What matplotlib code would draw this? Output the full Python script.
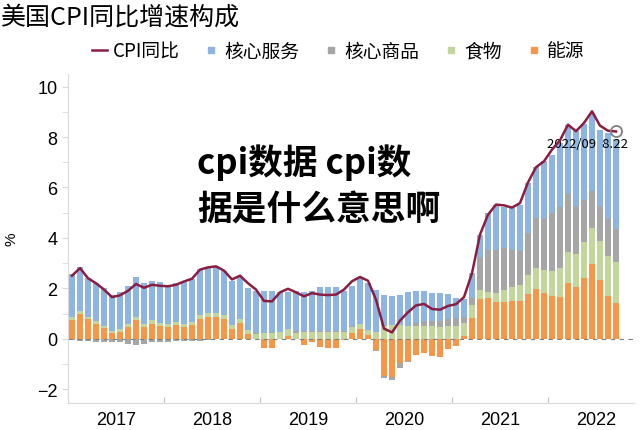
import matplotlib
matplotlib.use('Agg')
import matplotlib.pyplot as plt
from matplotlib.lines import Line2D
import numpy as np

plt.rcParams['font.family'] = ['Liberation Sans', 'Noto Sans CJK SC', 'DejaVu Sans']

years = ['2017', '2018', '2019', '2020', '2021', '2022']

# monthly contributions, Jan 2017 .. Sep 2022 (pp)
energy = [0.75, 1.0, 0.78, 0.6, 0.42, 0.22, 0.28, 0.45, 0.75, 0.45, 0.6, 0.5,
          0.45, 0.55, 0.45, 0.55, 0.8, 0.88, 0.88, 0.78, 0.4, 0.62, 0.2, 0.0,
          -0.36, -0.38, -0.03, 0.12, -0.03, -0.26, -0.12, -0.33, -0.36, -0.35, -0.05, 0.22,
          0.38, 0.16, -0.46, -1.47, -1.5, -0.95, -0.88, -0.64, -0.57, -0.7, -0.72, -0.42,
          -0.28, 0.12, 0.82, 1.57, 1.61, 1.44, 1.44, 1.51, 1.51, 1.79, 1.97, 1.81,
          1.71, 1.65, 2.21, 2.05, 2.41, 2.96, 2.34, 1.71, 1.42]
food = [0.1, 0.1, 0.1, 0.1, 0.08, 0.1, 0.12, 0.12, 0.13, 0.12, 0.13, 0.13,
        0.12, 0.12, 0.12, 0.13, 0.13, 0.15, 0.15, 0.15, 0.16, 0.15, 0.16, 0.2,
        0.22, 0.22, 0.25, 0.25, 0.24, 0.26, 0.25, 0.25, 0.26, 0.27, 0.27, 0.25,
        0.2, 0.2, 0.25, 0.5, 0.55, 0.55, 0.5, 0.5, 0.5, 0.5, 0.48, 0.5,
        0.49, 0.5, 0.53, 0.37, 0.26, 0.37, 0.5, 0.53, 0.63, 0.75, 0.83, 0.9,
        0.97, 1.15, 1.22, 1.32, 1.42, 1.43, 1.52, 1.59, 1.61]
goods = [-0.05, -0.08, -0.1, -0.12, -0.15, -0.12, -0.15, -0.2, -0.25, -0.22, -0.15, -0.12,
         -0.12, -0.1, -0.1, -0.1, -0.08, -0.05, -0.03, -0.02, -0.02, -0.02, -0.01, 0.02,
         0.02, 0.03, 0.02, 0.03, 0.05, 0.05, 0.06, 0.05, 0.04, 0.03, 0.02, 0.02,
         0.02, 0.0, -0.02, -0.08, -0.13, -0.2, -0.05, 0.12, 0.2, 0.2, 0.22, 0.3,
         0.33, 0.26, 0.26, 1.26, 1.65, 1.72, 1.65, 1.46, 1.32, 1.65, 1.98, 2.05,
         2.31, 2.41, 2.31, 1.9, 1.69, 1.46, 1.39, 1.43, 1.32]
services = [1.70, 1.75, 1.52, 1.5, 1.5, 1.43, 1.45, 1.53, 1.57, 1.63, 1.57, 1.62,
            1.53, 1.53, 1.68, 1.67, 1.82, 1.82, 1.87, 1.77, 1.74, 1.68, 1.64, 1.68,
            1.66, 1.65, 1.58, 1.45, 1.61, 1.54, 1.59, 1.75, 1.75, 1.75, 1.61, 1.61,
            1.85, 1.84, 1.7, 1.25, 1.15, 1.17, 1.35, 1.26, 1.18, 1.1, 1.1, 0.99,
            0.8, 0.7, 1.0, 0.93, 1.46, 1.79, 1.65, 1.69, 1.85, 2.0, 2.05, 2.3,
            2.31, 2.55, 2.75, 2.95, 3.0, 3.1, 3.04, 3.44, 3.57]
cpi = [2.5, 2.8, 2.4, 2.2, 1.95, 1.65, 1.72, 1.9, 2.17, 2.02, 2.14, 2.1,
       2.08, 2.14, 2.27, 2.38, 2.74, 2.83, 2.87, 2.7, 2.35, 2.5, 2.2, 1.95,
       1.5, 1.48, 1.84, 1.98, 1.84, 1.68, 1.81, 1.75, 1.73, 1.75, 1.95, 2.28,
       2.45, 2.3, 1.55, 0.4, 0.25, 0.72, 1.05, 1.32, 1.38, 1.18, 1.15, 1.3,
       1.37, 1.65, 2.6, 4.13, 4.92, 5.32, 5.29, 5.2, 5.38, 6.2, 6.8, 7.04,
       7.5, 7.87, 8.49, 8.23, 8.56, 9.02, 8.45, 8.25, 8.22]

colors = {'能源': '#F79646', '食物': '#C3D69B', '核心商品': '#A6A6A6', '核心服务': '#8EB4E3'}
line_color = '#8B1D41'

x = np.arange(len(cpi))
fig = plt.figure(figsize=(6.4, 4.31), dpi=100)
ax = fig.add_axes([68 / 640, 1 - 404 / 431, (634 - 68) / 640, (404 - 75) / 431])

pos_bottom = np.zeros(len(x))
neg_bottom = np.zeros(len(x))
for name, vals in [('能源', energy), ('食物', food), ('核心商品', goods), ('核心服务', services)]:
    v = np.array(vals)
    b = np.where(v >= 0, pos_bottom, neg_bottom)
    ax.bar(x, v, 0.72, bottom=b, color=colors[name], linewidth=0)
    pos_bottom += np.clip(v, 0, None)
    neg_bottom += np.clip(v, None, 0)

ax.axhline(0, color='#808080', lw=0.8, ls=(0, (4, 4)), zorder=1)
ax.plot(x, cpi, color=line_color, lw=1.8, zorder=4)
ax.plot(x[-1], cpi[-1], 'o', ms=8, mfc='none', mec='#808080', mew=1.3, zorder=5)
ax.text(x[-1] + 1.5, cpi[-1] - 0.22, '2022/09  8.22', ha='right', va='top',
        fontsize=9.5, family=['Noto Sans CJK SC'])

ax.set_xlim(-0.5, 70.25)
ax.set_ylim(-2.55, 10.5)
ax.set_yticks(np.arange(-2, 11, 2))
ax.set_yticks(np.arange(-2, 11, 1), minor=True)
ax.tick_params(axis='y', which='both', labelsize=13, color='#D9D9D9', length=4)
ax.set_xticks(np.arange(-0.5, 69, 12))
ax.set_xticklabels([])
ax.set_xticks(np.arange(5.5, 69, 12), minor=True)
ax.set_xticklabels(years, minor=True, fontsize=13)
ax.tick_params(axis='x', which='major', color='#BFBFBF', length=4, direction='in')
ax.tick_params(axis='x', which='minor', length=0, pad=6)

for s in ['top', 'right']:
    ax.spines[s].set_visible(False)
for s in ['left', 'bottom']:
    ax.spines[s].set_color('#D9D9D9')

fig.text(12 / 640, 1 - 239 / 431, '%', rotation=90, ha='center', va='center', fontsize=11)

fig.text(0.002, 1 - 18 / 431, '美国CPI同比增速构成', ha='left', va='center', fontsize=18,
         family=['Noto Sans CJK SC'])

handles = [Line2D([], [], color=line_color, lw=1.8)]
labels = ['CPI同比']
for name in ['核心服务', '核心商品', '食物', '能源']:
    handles.append(Line2D([], [], ls='', marker='s', ms=5, color=colors[name]))
    labels.append(name)
fig.legend(handles, labels, loc='center', bbox_to_anchor=(338 / 640, 1 - 52 / 431), ncol=5,
           frameon=False, handlelength=0.8, handletextpad=0.3, columnspacing=1.3,
           prop={'family': ['Noto Sans CJK SC'], 'size': 13.5})

fig.text(197 / 640, 1 - 163 / 431, 'cpi数据 cpi数', ha='left', va='center', fontsize=25,
         fontweight='heavy', family=['Noto Sans CJK SC'])
fig.text(197 / 640, 1 - 210 / 431, '据是什么意思啊', ha='left', va='center', fontsize=25,
         fontweight='heavy', family=['Noto Sans CJK SC'])

fig.savefig('out.png', dpi=100)
